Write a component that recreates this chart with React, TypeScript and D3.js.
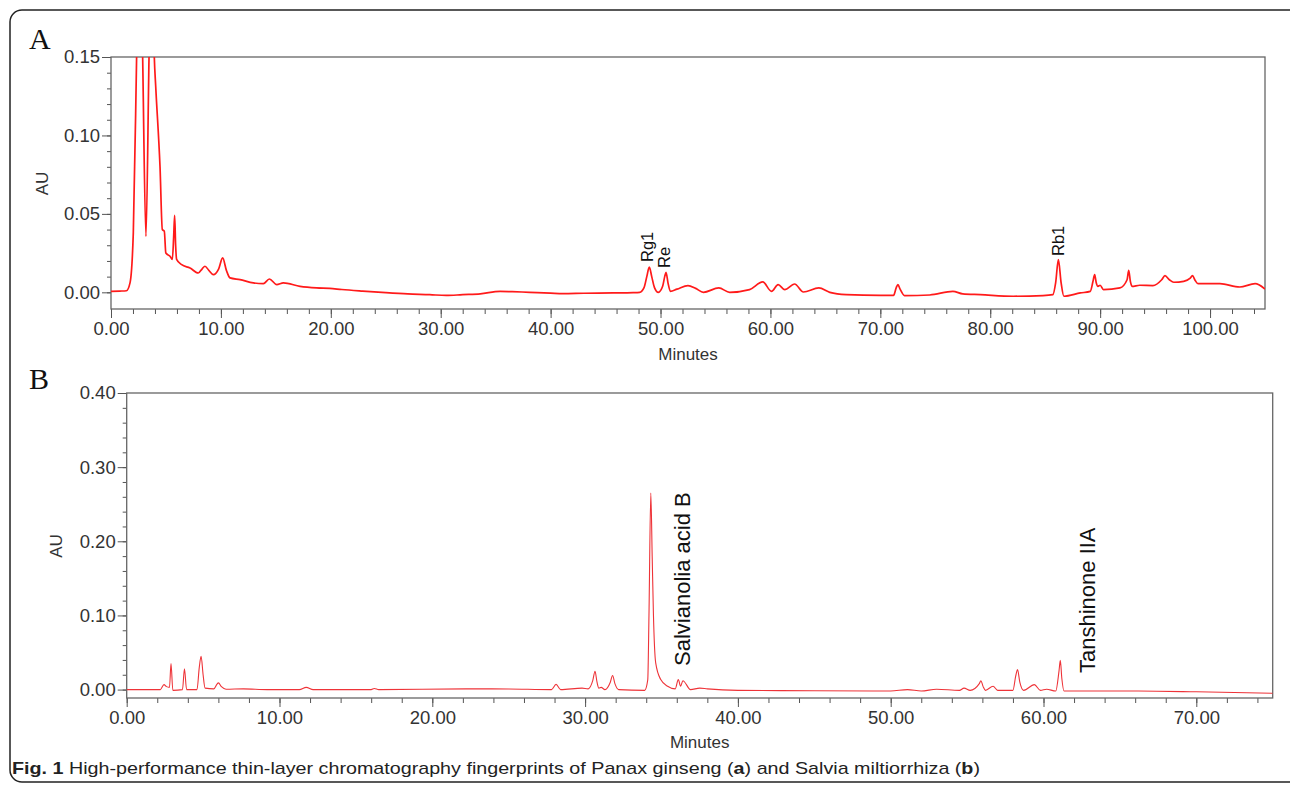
import React, { useEffect, useRef } from "react"
import * as d3 from "d3"

// Panel A: Panax ginseng trace, [minutes, AU]
const ginsengTrace: [number, number][] = [
  [0, 0.0006], [0.8, 0.0008], [1.4, 0.001], [1.73, 0.006], [2.03, 0.038], [2.33, 0.15],
  [2.6, 0.26], [2.88, 0.15], [3.18, 0.0356], [3.46, 0.15], [3.7, 0.24], [3.94, 0.15],
  [4.07, 0.131], [4.46, 0.08], [4.67, 0.04], [4.85, 0.039], [4.99, 0.025], [5.37, 0.023],
  [5.58, 0.021], [5.7, 0.035], [5.79, 0.049], [5.88, 0.03], [5.97, 0.021], [6.43, 0.0176],
  [7.19, 0.0155], [7.94, 0.0123], [8.3, 0.015], [8.55, 0.0166], [8.9, 0.014], [9.31, 0.0113],
  [9.8, 0.015], [10.16, 0.0219], [10.5, 0.014], [10.83, 0.0092], [11.74, 0.0081],
  [12.95, 0.006], [13.86, 0.0055], [14.41, 0.0085], [15.08, 0.0049], [15.68, 0.006],
  [17.2, 0.0038], [18.7, 0.0028], [19.9, 0.0025], [21, 0.0018], [22.9, 0.0008], [25, -0.0002],
  [27, -0.001], [29, -0.0015], [30.5, -0.002], [32, -0.0015], [33.6, -0.001], [35.4, 0.0006],
  [36.5, 0.0004], [38.1, 0.0], [40, -0.0005], [41.1, -0.0008], [43, -0.0006], [45.7, -0.0004],
  [47.5, -0.0002], [48.1, 0.0], [48.5, 0.003], [48.75, 0.01], [48.98, 0.0161], [49.2, 0.01],
  [49.45, 0.003], [49.8, 0.0], [50.2, 0.004], [50.38, 0.01], [50.5, 0.0127], [50.68, 0.006],
  [50.9, 0.0006], [51.5, 0.002], [52.5, 0.0043], [53.2, 0.0025], [53.9, 0.0], [55.3, 0.0028],
  [56.3, 0.0], [58.1, 0.0017], [59.3, 0.0066], [60.1, 0.0006], [60.7, 0.0049], [61.3, 0.0017],
  [62.2, 0.0053], [63.0, 0.0002], [64.4, 0.0028], [65.4, 0.0], [66.9, -0.0015], [70.0, -0.002],
  [71.2, -0.002], [71.45, 0.003], [71.6, 0.0049], [71.8, 0.002], [72.2, -0.0021],
  [74.5, -0.0017], [76.6, 0.0006], [77.5, -0.001], [79.1, -0.0015], [82.1, -0.0025],
  [84.8, -0.0021], [85.7, -0.0015], [85.95, 0.006], [86.2, 0.0208], [86.45, 0.006],
  [86.7, -0.0025], [88.2, -0.0004], [89.1, 0.0006], [89.35, 0.007], [89.5, 0.0113],
  [89.65, 0.006], [89.8, 0.0038], [90.0, 0.0045], [90.3, 0.0017], [91.8, 0.0028],
  [92.45, 0.008], [92.6, 0.014], [92.75, 0.007], [92.9, 0.0038], [93.6, 0.0045], [94.8, 0.0043],
  [95.6, 0.008], [95.9, 0.0106], [96.3, 0.008], [96.7, 0.0064], [97.6, 0.007], [98.2, 0.009],
  [98.4, 0.0106], [98.65, 0.0075], [98.9, 0.0055], [100.9, 0.0055], [102.7, 0.0034],
  [104.1, 0.0055], [105, 0.0021],
]

// Panel B: Salvia miltiorrhiza trace
const salviaTrace: [number, number][] = [
  [0, 0], [2.2, 0], [2.44, 0.0067], [2.6, 0.004], [2.8, 0.003], [2.9, 0.035], [3.02, -0.001],
  [3.65, 0.0], [3.78, 0.028], [3.92, 0.0], [4.6, 0.0], [4.75, 0.03], [4.87, 0.045], [5.0, 0.02],
  [5.13, 0.002], [5.7, 0.001], [5.9, 0.007], [6.0, 0.009], [6.2, 0.004], [6.5, 0.0005],
  [7.64, 0.001], [9.2, 0], [11.3, 0], [11.75, 0.003], [12.2, 0], [16.0, 0], [16.2, 0.0015],
  [16.5, 0], [22.2, 0.001], [25, 0.0008], [27.8, 0], [28.1, 0.007], [28.4, 0], [29.8, 0.002],
  [30.2, 0.001], [30.5, 0.012], [30.65, 0.0247], [30.78, 0.01], [30.9, 0.002], [31.05, 0.003],
  [31.3, 0.0], [31.65, 0.01], [31.8, 0.019], [31.95, 0.008], [32.2, 0.0], [33.9, -0.001],
  [34.1, 0.013], [34.18, 0.1], [34.3, 0.265], [34.39, 0.18], [34.47, 0.103], [34.62, 0.036],
  [34.95, 0.0135], [35.4, 0.0045], [35.9, 0.001], [36.1, 0.0135], [36.25, 0.0045],
  [36.4, 0.012], [36.9, 0.0], [37.5, 0.002], [38.0, 0.001], [40.0, -0.001], [45, -0.0015],
  [50, -0.002], [51.1, 0.0], [52, -0.002], [53, 0.0005], [54.5, -0.001], [54.8, 0.002],
  [55.2, -0.001], [55.8, 0.008], [55.9, 0.012], [56.05, 0.004], [56.2, -0.001], [56.7, 0.0045],
  [57, -0.001], [58.0, -0.001], [58.18, 0.018], [58.3, 0.027], [58.45, 0.01], [58.7, -0.001],
  [59.4, 0.0067], [59.8, -0.001], [60.2, 0.0005], [60.8, -0.002], [61.02, 0.026],
  [61.1, 0.0395], [61.2, 0.015], [61.35, -0.002], [66.2, -0.002], [70, -0.003], [75, -0.005],
]

const ginsengPeaks = [
  { name: "Rg1", x: 653, y: 262 },
  { name: "Re", x: 670, y: 268 },
  { name: "Rb1", x: 1063.5, y: 256 },
]
const salviaPeaks = [
  { name: "Salvianolia acid B", x: 690.4, y: 666 },
  { name: "Tanshinone IIA", x: 1094.6, y: 673 },
]

const FONT = "'Liberation Sans', Arial, sans-serif"

function drawPanel(svg, o) {
  const x = d3.scaleLinear().domain(o.xDomain).range([o.left, o.right])
  const y = d3.scaleLinear().domain(o.yDomain).range([o.bottom, o.top])
  const g = svg.append("g")

  g.append("clipPath")
    .attr("id", o.id)
    .append("rect")
    .attr("x", o.left)
    .attr("y", o.top)
    .attr("width", o.right - o.left)
    .attr("height", o.bottom - o.top)

  // minor + major ticks
  const axisStyle = sel => {
    sel.select(".domain").remove()
    sel.selectAll("line").attr("stroke", "#555")
    sel.selectAll("text").attr("fill", "#333").attr("font-family", FONT).attr("font-size", 18.5)
  }
  g.append("g")
    .attr("transform", `translate(0,${o.bottom + 1})`)
    .call(d3.axisBottom(x).tickValues(d3.range(0, o.xDomain[1], 2)).tickSize(5).tickFormat(() => ""))
    .call(axisStyle)
  g.append("g")
    .attr("transform", `translate(0,${o.bottom + 1})`)
    .call(d3.axisBottom(x).tickValues(d3.range(0, o.xDomain[1], 10)).tickSize(9).tickPadding(o.xPad).tickFormat(d3.format(".2f")))
    .call(axisStyle)
  g.append("g")
    .attr("transform", `translate(${o.left},0)`)
    .call(d3.axisLeft(y).tickValues(d3.range(0, o.yMax + 1e-9, o.yMinor)).tickSize(4).tickFormat(() => ""))
    .call(axisStyle)
  g.append("g")
    .attr("transform", `translate(${o.left},0)`)
    .call(d3.axisLeft(y).tickValues(d3.range(0, o.yMax + 1e-9, o.yMajor)).tickSize(9).tickPadding(2).tickFormat(d3.format(".2f")))
    .call(axisStyle)

  g.append("rect")
    .attr("x", o.left)
    .attr("y", o.top)
    .attr("width", o.right - o.left)
    .attr("height", o.bottom - o.top + 1)
    .attr("fill", "none")
    .attr("stroke", "#666")
    .attr("stroke-width", 1.3)

  const line = d3
    .line()
    .curve(d3.curveMonotoneX)
    .x(d => x(d[0]))
    .y(d => y(d[1]))
  g.append("path")
    .datum(o.data)
    .attr("clip-path", `url(#${o.id})`)
    .attr("fill", "none")
    .attr("stroke", o.color)
    .attr("stroke-width", o.lineWidth)
    .attr("stroke-linejoin", "round")
    .attr("d", line)

  g.append("text")
    .attr("x", (o.left + o.right) / 2)
    .attr("y", o.minutesY)
    .attr("text-anchor", "middle")
    .attr("font-family", FONT)
    .attr("font-size", 17)
    .attr("fill", "#333")
    .text("Minutes")

  g.append("text")
    .attr("transform", `translate(${o.auX},${o.auY}) rotate(-90)`)
    .attr("text-anchor", "middle")
    .attr("font-family", FONT)
    .attr("font-size", 17)
    .attr("fill", "#333")
    .text("AU")

  g.append("text")
    .attr("x", o.letterX)
    .attr("y", o.letterY)
    .attr("font-family", "'Liberation Serif', 'Times New Roman', serif")
    .attr("font-size", 30)
    .attr("fill", "#111")
    .text(o.letter)

  g.selectAll("text.peak")
    .data(o.peaks)
    .join("text")
    .attr("class", "peak")
    .attr("transform", d => `translate(${d.x},${d.y}) rotate(-90)`)
    .attr("font-family", FONT)
    .attr("font-size", o.peakFont)
    .attr("fill", "#111")
    .text(d => d.name)
}

export default function App() {
  const ref = useRef(null)

  useEffect(() => {
    const svg = d3.select(ref.current)
    svg.selectAll("*").remove()

    svg.append("rect")
      .attr("x", 10)
      .attr("y", 10)
      .attr("width", 1300)
      .attr("height", 772)
      .attr("rx", 12)
      .attr("fill", "none")
      .attr("stroke", "#222")
      .attr("stroke-width", 1.5)

    drawPanel(svg, {
      id: "clipA", letter: "A", letterX: 29, letterY: 49,
      xDomain: [0, 105], yDomain: [-0.01, 0.15], yMax: 0.15, yMinor: 0.01, yMajor: 0.05,
      left: 111, right: 1265, top: 57, bottom: 308, xPad: 3.5,
      data: ginsengTrace, color: "#ff1a1a", lineWidth: 1.7,
      minutesY: 360, auX: 47.5, auY: 183.5,
      peaks: ginsengPeaks, peakFont: 16.5,
    })

    drawPanel(svg, {
      id: "clipB", letter: "B", letterX: 29, letterY: 389,
      xDomain: [0, 75], yDomain: [-0.01, 0.4], yMax: 0.4, yMinor: 0.02, yMajor: 0.1,
      left: 126.7, right: 1272.7, top: 393, bottom: 697, xPad: 4,
      data: salviaTrace, color: "#ee3338", lineWidth: 1.1,
      minutesY: 748, auX: 62, auY: 546,
      peaks: salviaPeaks, peakFont: 22,
    })

    const cap = svg.append("text")
      .attr("x", 12)
      .attr("y", 774)
      .attr("font-family", "'Liberation Sans Narrow', 'Arial Narrow', 'Liberation Sans', sans-serif")
      .attr("font-size", 17)
      .attr("fill", "#222")
      .attr("textLength", 968)
      .attr("lengthAdjust", "spacingAndGlyphs")
    cap.append("tspan").attr("font-weight", "bold").text("Fig. 1")
    cap.append("tspan").text(" High-performance thin-layer chromatography fingerprints of Panax ginseng (")
    cap.append("tspan").attr("font-weight", "bold").text("a")
    cap.append("tspan").text(") and Salvia miltiorrhiza (")
    cap.append("tspan").attr("font-weight", "bold").text("b")
    cap.append("tspan").text(")")
  }, [])

  return (
    <svg
      ref={ref}
      width={1290}
      height={791}
      style={{ position: "absolute", left: 0, top: 0, background: "#fff" }}
    />
  )
}
